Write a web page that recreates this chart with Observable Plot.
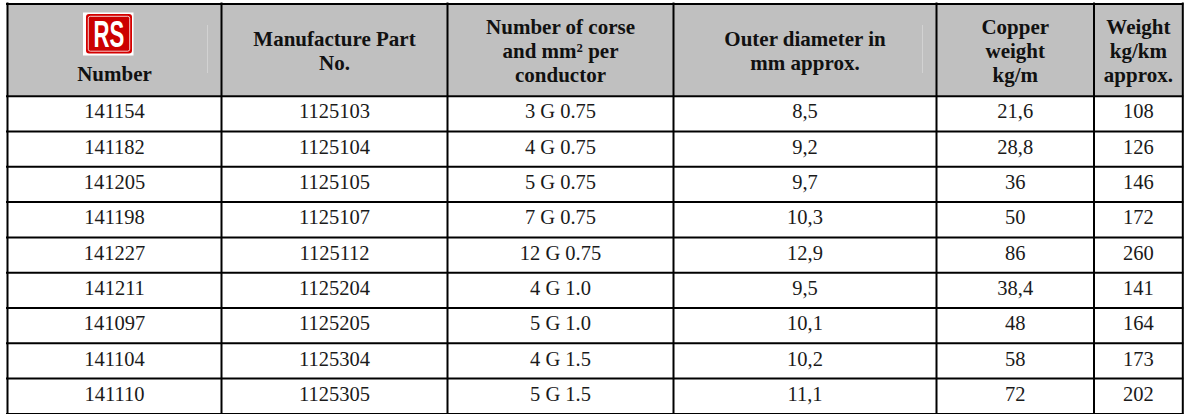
<!DOCTYPE html>
<html>
<head>
<meta charset="utf-8">
<script src="https://cdn.jsdelivr.net/npm/d3@7"></script>
<script src="https://cdn.jsdelivr.net/npm/@observablehq/plot@0.6"></script>
<style>
  html, body { margin: 0; padding: 0; background: #fff; }
  #chart svg { display: block; }
</style>
</head>
<body>
<div id="chart"></div>
<script>
// ---- data ----
const headers = [
  "Number",
  "Manufacture Part\nNo.",
  "Number of corse\nand mm² per\nconductor",
  "Outer diameter in\nmm approx.",
  "Copper\nweight\nkg/m",
  "Weight\nkg/km\napprox."
];
const logoText = "RS";
const rsNumbers = ["141154", "141182", "141205", "141198", "141227", "141211", "141097", "141104", "141110"];
const partNumbers = ["1125103", "1125104", "1125105", "1125107", "1125112", "1125204", "1125205", "1125304", "1125305"];
const cores = ["3 G 0.75", "4 G 0.75", "5 G 0.75", "7 G 0.75", "12 G 0.75", "4 G 1.0", "5 G 1.0", "4 G 1.5", "5 G 1.5"];
const outerDiameter = ["8,5", "9,2", "9,7", "10,3", "12,9", "9,5", "10,1", "10,2", "11,1"];
const copperWeight = ["21,6", "28,8", "36", "50", "86", "38,4", "48", "58", "72"];
const weightKgKm = ["108", "126", "146", "172", "260", "141", "164", "173", "202"];

// ---- layout (pixels) ----
const W = 1184, H = 414;
const colEdges = [7, 221, 447, 673, 936, 1093.5, 1182.3];
const tableTop = 3.5, headerBottom = 95.7, rowH = 35.3;
const nRows = rsNumbers.length;
const tableBottom = headerBottom + nRows * rowH;
const headerMid = (tableTop + headerBottom) / 2;
const colMid = i => (colEdges[i] + colEdges[i + 1]) / 2;

const columns = [rsNumbers, partNumbers, cores, outerDiameter, copperWeight, weightKgKm];
const cells = [];
columns.forEach((col, c) => col.forEach((v, r) => cells.push({
  x: colMid(c), y: headerBottom + (r + 0.5) * rowH, label: v
})));
const headerCells = headers.slice(1).map((h, i) => ({x: colMid(i + 1), y: headerMid, label: h}));
const hLines = [tableTop, headerBottom, ...d3.range(1, nRows + 1).map(r => headerBottom + r * rowH)];

// logo geometry
const logoCx = 108.5;
const logo = {
  bg: {x1: 83, x2: 133.5, y1: 12.5, y2: 55.5},
  box: {x1: 86, x2: 132, y1: 14, y2: 53.5},
  inner: {x1: 88.3, x2: 129.7, y1: 16.3, y2: 51.2}
};

const serif = "Liberation Serif, Times New Roman, serif";

const chart = Plot.plot({
  width: W, height: H,
  margin: 0,
  style: {background: "#fff"},
  x: {type: "linear", domain: [0, W], range: [0, W], axis: null},
  y: {type: "linear", domain: [0, H], range: [0, H], axis: null},
  marks: [
    // header background
    Plot.rect([{x1: colEdges[0], x2: colEdges[colEdges.length - 1], y1: tableTop, y2: headerBottom}],
      {x1: "x1", x2: "x2", y1: "y1", y2: "y2", fill: "#c0c0c0"}),
    // faint artifacts in header
    Plot.ruleX([207, 922], {y1: 25, y2: 73, stroke: "#d2d2d2", strokeWidth: 1}),
    // logo
    Plot.rect([logo.bg], {x1: "x1", x2: "x2", y1: "y1", y2: "y2", fill: "#fff"}),
    Plot.rect([logo.box], {x1: "x1", x2: "x2", y1: "y1", y2: "y2", fill: "#d40000", rx: 3}),
    Plot.rect([logo.inner], {x1: "x1", x2: "x2", y1: "y1", y2: "y2", fill: "#cc0000", stroke: "#ffffff", strokeWidth: 0.8, rx: 2}),
    Plot.text([logoText], {x: logoCx, y: 34.5, text: d => d, fill: "#fff", fontSize: 37,
      fontWeight: "bold", fontFamily: "Liberation Sans, Arial, sans-serif"}),
    // grid lines
    Plot.ruleY(hLines, {x1: colEdges[0] - 1, x2: colEdges[colEdges.length - 1] + 1, stroke: "#000", strokeWidth: 2}),
    Plot.ruleX(colEdges, {y1: tableTop - 1, y2: tableBottom + 1, stroke: "#000", strokeWidth: 2}),
    // header text
    Plot.text(headerCells, {x: "x", y: "y", text: "label", fontSize: 21, fontWeight: "bold",
      fontFamily: serif, lineHeight: 1.14, fill: "#111", dy: 0.5}),
    Plot.text([headers[0]], {x: colMid(0), y: headerMid + 24, text: d => d, fontSize: 21, fontWeight: "bold",
      fontFamily: serif, fill: "#111"}),
    // body text
    Plot.text(cells, {x: "x", y: "y", text: "label", fontSize: 20.5, fontFamily: serif, fill: "#1a1a1a", dy: -2})
  ]
});

// narrow the logo letters
chart.querySelectorAll("text").forEach(t => {
  if (t.textContent === logoText) {
    const existing = t.getAttribute("transform") || "";
    t.setAttribute("transform", `translate(${logoCx},0) scale(0.6,1) translate(${-logoCx},0) ${existing}`);
  }
});

document.getElementById("chart").appendChild(chart);
</script>
</body>
</html>
